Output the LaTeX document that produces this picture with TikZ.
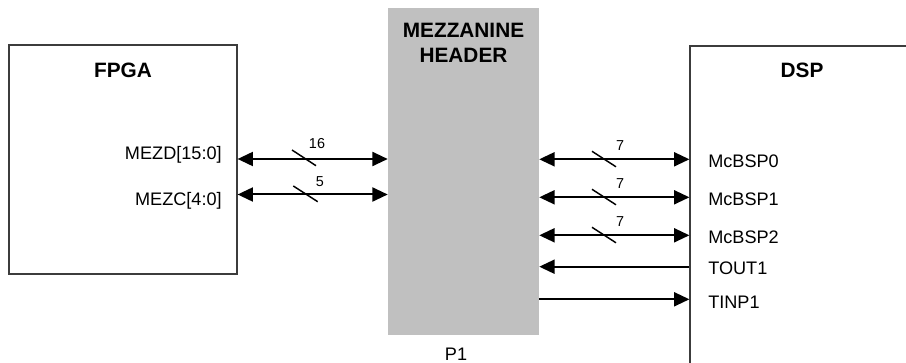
\documentclass[tikz,border=0pt]{standalone}
\usepackage{fontspec}
\setmainfont{Liberation Sans}
\usepackage{tikz}
\usetikzlibrary{arrows.meta}
\usepackage{xcolor}
\definecolor{frameline}{RGB}{60,60,60}
\definecolor{headergrey}{RGB}{192,192,192}

\begin{document}
\begin{tikzpicture}[x=0.75pt, y=-0.75pt,
    >={Triangle[length=11.5pt,width=10.5pt]},
    chip/.style={draw=frameline, line width=0.9pt, inner sep=0pt},
    title/.style={font=\fontsize{15.6}{18.75}\selectfont\bfseries, inner sep=0pt},
    pin/.style={font=\fontsize{13.6}{16}\selectfont, inner sep=0pt},
    num/.style={font=\fontsize{10.8}{12}\selectfont, inner sep=0pt},
    bus/.style={line width=1.5pt},
    slash/.style={line width=1.1pt}]
    \useasboundingbox (0,0) rectangle (906,363);
    % FPGA box
    \node[chip, minimum width=171pt, minimum height=171.75pt] (fpga) at (123,159.5) {};
    \node[title, anchor=base] (fpgat) at (123,77.3) {FPGA};
    % Mezzanine header
    \node[fill=headergrey, inner sep=0pt, minimum width=113.25pt,
      minimum height=245.25pt] (hdr) at (463.5,171.5) {};
    \node[title, anchor=north, align=center] (hdrt) at (463.5,22.7)
      {MEZZANINE\\HEADER};
    \node[pin, anchor=base] (p1) at (456,360) {P1};
    % DSP box (runs off the page)
    \node[chip, minimum width=202.5pt, minimum height=280.5pt] (dsp) at (825,233) {};
    \node[title, anchor=base] (dspt) at (802,77.3) {DSP};
    % FPGA side
    \node[pin, anchor=base east] (mezd) at (222,159.3) {MEZD[15:0]};
    \node[pin, anchor=base east] (mezc) at (222,205.7) {MEZC[4:0]};
    \draw[bus,<->] (fpga.east |- 0,159) -- (hdr.west |- 0,159);
    \draw[slash] (292,150) -- (316,165.7);
    \node[num, anchor=base] (w16) at (317,148.3) {16};
    \draw[bus,<->] (fpga.east |- 0,194.5) -- (hdr.west |- 0,194.5);
    \draw[slash] (293.3,186) -- (317.7,201.7);
    \node[num, anchor=base] (w5) at (320,186.7) {5};
    % DSP side, serial ports
    \foreach \yy/\lab [count=\i from 0] in {159.3/McBSP0,197.3/McBSP1,235.3/McBSP2}{
      \draw[bus,<->] (hdr.east |- 0,\yy) -- (dsp.west |- 0,\yy);
      \draw[slash] (592,\yy-8) -- (616,\yy+7.5);
      \node[num, anchor=base] (w\i) at (620,\yy-8.6) {7};
      \node[pin, anchor=base west] (mcbsp\i) at (708,\yy+8.3) {\lab};
    }
    % timer lines
    \node[pin, anchor=base west] (tout) at (708,274) {TOUT1};
    \node[pin, anchor=base west] (tinp) at (708,308) {TINP1};
    \draw[bus,<-] (hdr.east |- 0,266.7) -- (dsp.west |- 0,266.7);
    \draw[bus,->] (hdr.east |- 0,299.3) -- (dsp.west |- 0,299.3);
\end{tikzpicture}
\end{document}
